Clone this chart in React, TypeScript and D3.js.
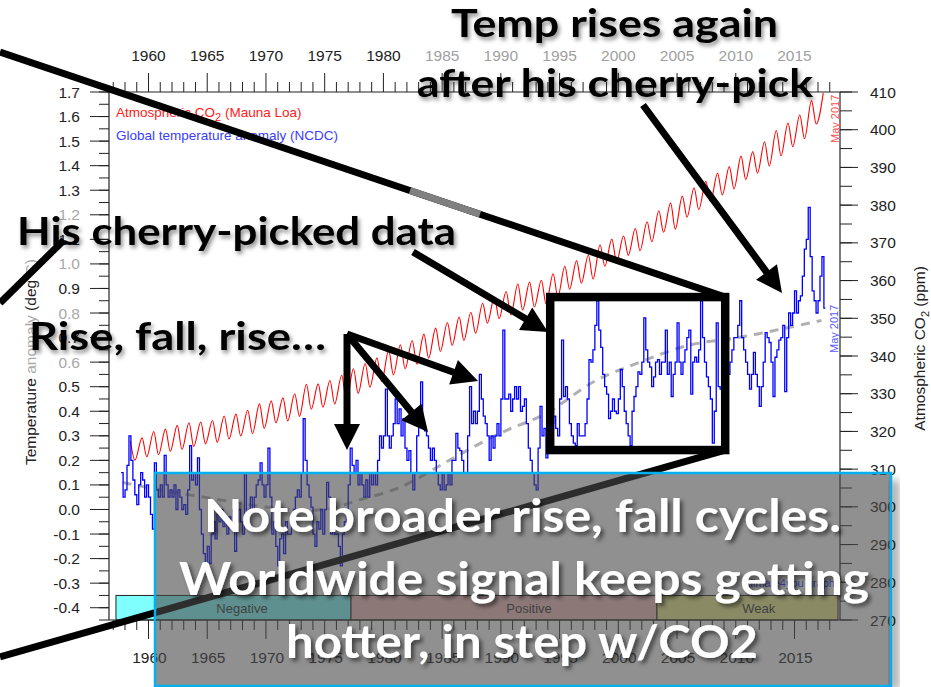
import React from "react";
import * as d3 from "d3";

// ---------------- DATA ----------------
const YEAR_TICKS_MAJOR = [1960, 1965, 1970, 1975, 1980, 1985, 1990, 1995, 2000, 2005, 2010, 2015];
const YEAR_TICKS_MINOR = d3.range(1957, 2019);
const TEMP_TICKS = [-0.4, -0.3, -0.2, -0.1, 0.0, 0.1, 0.2, 0.3, 0.4, 0.5, 0.6, 0.7, 0.8, 0.9, 1.0, 1.1, 1.2, 1.3, 1.4, 1.5, 1.6, 1.7];
const TEMP_TICKS_MINOR = d3.range(-0.45, 1.71, 0.05);
const CO2_TICKS = [270, 280, 290, 300, 310, 320, 330, 340, 350, 360, 370, 380, 390, 400, 410];
const CO2_TICKS_MINOR = d3.range(270, 411, 5);

// Mauna Loa CO2, seasonal maxima (May) and minima (autumn), ppm
const CO2_YEARS = d3.range(1958, 2018);
const CO2_MAY_PEAK = [
  317.5, 318.3, 320.0, 320.6, 321.6, 322.3, 322.5, 322.9, 324.1, 324.6,
  325.6, 327.3, 328.1, 328.9, 330.0, 332.5, 332.6, 333.5, 334.9, 336.6,
  338.0, 339.5, 341.5, 343.0, 344.1, 345.8, 347.4, 348.9, 350.3, 351.6,
  354.0, 355.6, 357.1, 359.1, 359.6, 360.1, 361.8, 363.8, 365.3, 366.8,
  369.5, 371.0, 371.8, 373.8, 375.6, 378.5, 380.6, 382.4, 384.6, 386.3,
  388.5, 390.2, 393.0, 394.2, 396.8, 399.8, 401.8, 403.9, 407.7, 409.7,
];
const CO2_AUTUMN_LOW = [
  312.4, 313.3, 313.8, 314.7, 315.2, 316.0, 316.7, 317.1, 318.0, 318.8,
  319.4, 320.8, 322.3, 322.8, 324.0, 325.9, 326.4, 327.3, 328.1, 330.1,
  331.7, 333.2, 335.0, 336.6, 337.8, 339.4, 341.2, 342.8, 344.1, 346.0,
  348.7, 349.9, 350.9, 352.2, 353.0, 353.8, 355.7, 357.7, 359.3, 360.4,
  363.8, 365.0, 366.7, 367.9, 370.3, 372.8, 373.6, 376.8, 378.8, 380.9,
  382.7, 384.3, 386.8, 388.5, 390.4, 393.1, 395.5, 397.6, 401.5,
];

// Global temperature anomaly (NCDC), deg C, read every two months
const TEMP_START = 1957.67;
const TEMP_STEP = 1 / 6;
const TEMP_VALUES = [
  0.15, 0.05,
  0.08, 0.18, 0.30, 0.20, 0.12, 0.06,
  0.02, 0.10, 0.15, 0.12, 0.05, 0.10,
  0.05, -0.02, -0.08, 0.19, 0.08, 0.05,
  0.10, 0.05, 0.22, 0.10, 0.05, 0.08,
  0.05, 0.10, 0.00, 0.08, 0.05, 0.00,
  0.02, -0.02, 0.08, 0.26, 0.12, 0.15,
  0.10, 0.21, 0.00, -0.10, -0.18, -0.22,
  -0.15, -0.22, -0.10, -0.05, -0.12, -0.02,
  -0.05, 0.00, -0.07, -0.05, -0.10, -0.03,
  -0.05, 0.00, -0.17, -0.05, 0.00, -0.05,
  -0.10, 0.15, -0.05, 0.00, 0.05, 0.00,
  0.05, 0.10, 0.12, 0.19, 0.10, 0.05,
  0.10, 0.25, 0.05, -0.10, -0.05, -0.15,
  -0.23, -0.12, -0.10, -0.18, -0.05, -0.10,
  -0.10, -0.05, 0.00, 0.05, 0.08, 0.05,
  0.15, 0.37, 0.20, 0.10, 0.05, 0.01,
  -0.10, -0.15, -0.05, -0.08, 0.00, -0.10,
  0.00, 0.11, 0.05, -0.10, -0.05, -0.10,
  -0.10, -0.15, -0.23, -0.10, -0.05, 0.00,
  0.10, 0.25, 0.18, 0.15, 0.20, 0.10,
  0.15, 0.10, 0.05, 0.12, 0.05, 0.15,
  0.10, 0.15, 0.10, 0.20, 0.30, 0.25,
  0.30, 0.49, 0.30, 0.25, 0.30, 0.35,
  0.45, 0.35, 0.41, 0.30, 0.37, 0.25,
  0.20, 0.24, 0.15, 0.08, 0.15, 0.30,
  0.40, 0.52, 0.35, 0.32, 0.30, 0.25,
  0.20, 0.25, 0.20, 0.15, 0.10, 0.08,
  0.15, 0.08, 0.10, 0.15, 0.10, 0.20,
  0.20, 0.31, 0.25, 0.24, 0.20, 0.15,
  0.15, 0.30, 0.50, 0.35, 0.40, 0.35,
  0.40, 0.55, 0.45, 0.38, 0.35, 0.30,
  0.20, 0.30, 0.25, 0.30, 0.35, 0.30,
  0.45, 0.73, 0.45, 0.45, 0.47, 0.40,
  0.45, 0.50, 0.45, 0.50, 0.40, 0.42,
  0.45, 0.35, 0.25, 0.20, 0.15, 0.10,
  0.08, 0.25, 0.42, 0.30, 0.33, 0.21,
  0.30, 0.25, 0.35, 0.38, 0.33, 0.30,
  0.45, 0.69, 0.46, 0.50, 0.45, 0.35,
  0.30, 0.27, 0.26, 0.35, 0.30, 0.30,
  0.30, 0.35, 0.45, 0.61, 0.60, 0.65,
  0.75, 0.85, 0.73, 0.66, 0.55, 0.50,
  0.47, 0.37, 0.40, 0.45, 0.40, 0.39,
  0.45, 0.57, 0.50, 0.40, 0.35, 0.30,
  0.26, 0.40, 0.46, 0.50, 0.56, 0.55,
  0.60, 0.78, 0.65, 0.60, 0.58, 0.50,
  0.54, 0.60, 0.61, 0.55, 0.60, 0.60,
  0.73, 0.55, 0.60, 0.46, 0.55, 0.60,
  0.76, 0.60, 0.55, 0.60, 0.65, 0.70,
  0.73, 0.47, 0.60, 0.62, 0.60, 0.65,
  0.85, 0.70, 0.60, 0.54, 0.50, 0.45,
  0.27, 0.40, 0.76, 0.50, 0.49, 0.55,
  0.50, 0.60, 0.55, 0.60, 0.65, 0.70,
  0.70, 0.75, 0.85, 0.70, 0.65, 0.60,
  0.55, 0.49, 0.55, 0.64, 0.55, 0.50,
  0.42, 0.50, 0.60, 0.72, 0.70, 0.68,
  0.60, 0.46, 0.62, 0.65, 0.69, 0.70,
  0.75, 0.48, 0.70, 0.80, 0.75, 0.80,
  0.89, 0.80, 0.85, 0.87, 0.95, 1.06,
  1.10, 1.23, 1.03, 0.89, 0.85, 0.80,
  0.85, 0.95, 1.03, 0.82,
];

// Smoothed trend (grey dashed)
const TREND_YEARS = [1957.8, 1961, 1966, 1970, 1975, 1978, 1981.4, 1985.6, 1989.9, 1993.8, 1997.9, 2001.3, 2006.1, 2010.2, 2014.4, 2017.3];
const TREND_VALUES = [0.11, 0.08, 0.04, 0.01, 0.0, 0.04, 0.09, 0.2, 0.31, 0.39, 0.52, 0.59, 0.67, 0.7, 0.74, 0.77];

// ENSO phases band
const ENSO_LABELS = ["Negative", "Positive", "Weak"];
const ENSO_START = [1957.23, 1977.24, 2003.29];
const ENSO_END = [1977.24, 2003.29, 2018.7];
const ENSO_LABEL_YEAR = [1967.96, 1992.4, 2011.95];
const ENSO_COLORS = ["#80ffff", "#f7c2c2", "#f0f090"];

// Cherry-picked window (years, deg C)
const PICK_YEARS = [1994.2, 2009.1];
const PICK_TEMPS = [0.242, 0.865];

// ---------------- CHART ----------------
const W = 931;
const H = 687;
const L = 109, R = 840, T = 92, B = 620;
const FONT = "'Liberation Sans', Arial, sans-serif";
const BIG = "Lato, 'Open Sans', sans-serif";

const x = d3.scaleLinear().domain([1960, 2015]).range([148.5, 794.5]);
const yT = d3.scaleLinear().domain([-0.45, 1.7]).range([B, T]);
const yC = d3.scaleLinear().domain([270, 410]).range([B, T]);

function arrowPoly(x1: number, y1: number, x2: number, y2: number, shaft = 7, headLen = 26, headHalf = 13) {
  const dx = x2 - x1, dy = y2 - y1;
  const len = Math.hypot(dx, dy);
  const ux = dx / len, uy = dy / len;
  const px = -uy, py = ux;
  const bx = x2 - ux * headLen, by = y2 - uy * headLen;
  const s = shaft / 2;
  const pts = [
    [x1 + px * s, y1 + py * s],
    [bx + px * s, by + py * s],
    [bx + px * headHalf, by + py * headHalf],
    [x2, y2],
    [bx - px * headHalf, by - py * headHalf],
    [bx - px * s, by - py * s],
    [x1 - px * s, y1 - py * s],
  ];
  return pts.map((p) => p.join(",")).join(" ");
}

export default function App() {
  const co2Pts: [number, number][] = [];
  CO2_YEARS.forEach((yr, i) => {
    co2Pts.push([yr + 0.45, CO2_MAY_PEAK[i]]);
    if (i < CO2_AUTUMN_LOW.length) co2Pts.push([yr + 0.85, CO2_AUTUMN_LOW[i]]);
  });
  const co2Line = d3
    .line<[number, number]>()
    .x((d) => x(d[0]))
    .y((d) => yC(d[1]))
    .curve(d3.curveMonotoneX);

  const tempPts: [number, number][] = TEMP_VALUES.map((v, i) => [TEMP_START + i * TEMP_STEP, v]);
  tempPts.push([TEMP_START + TEMP_VALUES.length * TEMP_STEP - 0.05, TEMP_VALUES[TEMP_VALUES.length - 1]]);
  const tempLine = d3
    .line<[number, number]>()
    .x((d) => x(d[0]))
    .y((d) => yT(d[1]))
    .curve(d3.curveStepAfter);

  const trendLine = d3
    .line<number>()
    .x((_, i) => x(TREND_YEARS[i]))
    .y((d) => yT(d))
    .curve(d3.curveCatmullRom);

  const boxX0 = x(PICK_YEARS[0]), boxX1 = x(PICK_YEARS[1]);
  const boxY0 = yT(PICK_TEMPS[1]), boxY1 = yT(PICK_TEMPS[0]);

  const grayLeft = new Set([1.2, 1.0, 0.8, 0.6]);

  return (
    <svg width={W} height={H} style={{ position: "absolute", left: 0, top: 0, background: "#fff" }} fontFamily={FONT}>
      <defs>
        <filter id="shBlack" x="-10%" y="-40%" width="125%" height="190%">
          <feDropShadow dx="2" dy="3" stdDeviation="2.2" floodColor="#000" floodOpacity="0.45" />
        </filter>
        <filter id="shWhite" x="-10%" y="-40%" width="125%" height="190%">
          <feDropShadow dx="3" dy="3" stdDeviation="2" floodColor="#000" floodOpacity="0.55" />
        </filter>
        <filter id="blur4">
          <feGaussianBlur stdDeviation="4" />
        </filter>
      </defs>
      <rect x={0} y={0} width={W} height={H} fill="#fff" />

      {/* ENSO band */}
      {ENSO_LABELS.map((lab, i) => (
        <g key={lab}>
          <rect
            x={x(ENSO_START[i])}
            y={yT(-0.35)}
            width={x(ENSO_END[i]) - x(ENSO_START[i])}
            height={yT(-0.45) - yT(-0.35)}
            fill={ENSO_COLORS[i]}
            stroke="#222"
            strokeWidth={1}
          />
          <text x={x(ENSO_LABEL_YEAR[i])} y={yT(-0.4) + 5} textAnchor="middle" fontSize={13} fill="#333">
            {lab}
          </text>
        </g>
      ))}
      <text x={745} y={587} fontSize={11} fill="#2a2aff">climate4you graph</text>

      {/* Axes frame */}
      <line x1={L} x2={R} y1={T} y2={T} stroke="#222" strokeWidth={1.2} />
      <line x1={L} x2={R} y1={B} y2={B} stroke="#222" strokeWidth={1.2} />
      <line x1={L} x2={L} y1={T} y2={B} stroke="#222" strokeWidth={1.2} />
      <line x1={R} x2={R} y1={T} y2={B} stroke="#222" strokeWidth={1.2} />

      {/* Year ticks top & bottom */}
      {YEAR_TICKS_MINOR.map((yr) => {
        const major = yr % 5 === 0;
        const len = major ? 19 : 10;
        return (
          <g key={"yt" + yr}>
            <line x1={x(yr)} x2={x(yr)} y1={T} y2={T - len} stroke="#222" strokeWidth={1} />
            <line x1={x(yr)} x2={x(yr)} y1={B} y2={B + len} stroke="#222" strokeWidth={1} />
          </g>
        );
      })}
      {YEAR_TICKS_MAJOR.map((yr) => (
        <g key={"yl" + yr}>
          <text x={x(yr)} y={61} textAnchor="middle" fontSize={15.5} fill={yr >= 1985 ? "#a0a0a0" : "#222"}>
            {yr}
          </text>
          <text x={x(yr) + 1} y={663} textAnchor="middle" fontSize={15.5} fill="#222">
            {yr}
          </text>
        </g>
      ))}

      {/* Left temperature axis */}
      {TEMP_TICKS_MINOR.map((v, i) => (
        <line key={"tm" + i} x1={L} x2={L - 10} y1={yT(v)} y2={yT(v)} stroke="#222" strokeWidth={1} />
      ))}
      {TEMP_TICKS.map((v) => (
        <g key={"tt" + v}>
          <line x1={L} x2={L - 19} y1={yT(v)} y2={yT(v)} stroke="#222" strokeWidth={1} />
          <text x={80} y={yT(v) + 5.5} textAnchor="end" fontSize={15.5} fill={grayLeft.has(v) ? "#a8a8a8" : "#222"}>
            {v.toFixed(1)}
          </text>
        </g>
      ))}
      <text transform={`translate(36,${yT(0.6)}) rotate(-90)`} textAnchor="middle" fontSize={15.5} fill="#222">
        <tspan>Temperature </tspan>
        <tspan fill="#aaa">anomaly</tspan>
        <tspan> (deg </tspan>
        <tspan fill="#aaa">C)</tspan>
      </text>

      {/* Right CO2 axis */}
      {CO2_TICKS_MINOR.map((v) => (
        <line key={"cm" + v} x1={R} x2={R + 12} y1={yC(v)} y2={yC(v)} stroke="#222" strokeWidth={1} />
      ))}
      {CO2_TICKS.map((v) => (
        <g key={"ct" + v}>
          <line x1={R} x2={R + 18} y1={yC(v)} y2={yC(v)} stroke="#222" strokeWidth={1} />
          <text x={870} y={yC(v) + 5.5} fontSize={15.5} fill="#222">
            {v}
          </text>
        </g>
      ))}
      <text transform={`translate(925,${yC(342)}) rotate(-90)`} textAnchor="middle" fontSize={15.5} fill="#222">
        Atmospheric CO<tspan fontSize={11} dy={4}>2</tspan>
        <tspan dy={-4}> (ppm)</tspan>
      </text>

      {/* Legend */}
      <text x={116} y={117} fontSize={13.5} fill="#ff2020">
        Atmospheric CO<tspan fontSize={11} dy={4}>2</tspan>
        <tspan dy={-4}> (Mauna Loa)</tspan>
      </text>
      <text x={116} y={140} fontSize={13.5} fill="#3c3cff">
        Global temperature anomaly (NCDC)
      </text>

      {/* Series */}
      <path d={trendLine(TREND_VALUES) || ""} fill="none" stroke="#b0b0b0" strokeWidth={3} strokeDasharray="9,7" />
      <path d={co2Line(co2Pts) || ""} fill="none" stroke="#ff0000" strokeWidth={1.1} />
      <path d={tempLine(tempPts) || ""} fill="none" stroke="#0000ff" strokeWidth={1.3} />

      <text transform="translate(839,143) rotate(-90)" fontSize={11} fill="#ff5050">May 2017</text>
      <text transform="translate(838,353) rotate(-90)" fontSize={11} fill="#5a5aff">May 2017</text>

      {/* Annotation lines */}
      <line x1={0} y1={52} x2={boxX1} y2={boxY0} stroke="#000" strokeWidth={7} />
      <line x1={410} y1={52 + (410 * (boxY0 - 52)) / boxX1} x2={480} y2={52 + (480 * (boxY0 - 52)) / boxX1} stroke="#808080" strokeWidth={7} />
      <line x1={0} y1={657} x2={boxX1} y2={boxY1} stroke="#000" strokeWidth={7} />
      <line x1={0} y1={303} x2={64} y2={240} stroke="#000" strokeWidth={7} />

      {/* Cherry-pick box */}
      <rect x={boxX0} y={boxY0} width={boxX1 - boxX0} height={boxY1 - boxY0} fill="none" stroke="#000" strokeWidth={8.5} />

      {/* Arrows */}
      <polygon points={arrowPoly(413, 252, 548, 332)} fill="#000" />
      <polygon points={arrowPoly(643, 105, 782, 293)} fill="#000" />
      <polygon points={arrowPoly(347, 334, 347, 450)} fill="#000" />
      <polygon points={arrowPoly(347, 334, 428, 432)} fill="#000" />
      <polygon points={arrowPoly(347, 334, 478, 381)} fill="#000" />

      {/* Grey overlay box */}
      <rect x={889} y={480} width={10} height={210} fill="#000" opacity={0.35} filter="url(#blur4)" />
      <rect x={155} y={473} width={736} height={213} fill="#4a4a4a" fillOpacity={0.61} stroke="#00b0f0" strokeWidth={2.5} />

      <g fill="#fff" fontFamily={BIG} fontWeight={700} fontSize={45} filter="url(#shWhite)">
        <text x={204} y={532} textLength={637} lengthAdjust="spacingAndGlyphs">Note broader rise, fall cycles.</text>
        <text x={179} y={595} textLength={690} lengthAdjust="spacingAndGlyphs">Worldwide signal keeps getting</text>
        <text x={286} y={658} textLength={472} lengthAdjust="spacingAndGlyphs">hotter, in step w/CO2</text>
      </g>

      {/* Black annotation texts */}
      <g fill="#000" fontFamily={BIG} fontWeight={700} fontSize={39} filter="url(#shBlack)">
        <text x={451} y={37} textLength={327} lengthAdjust="spacingAndGlyphs">Temp rises again</text>
        <text x={417} y={97} textLength={396} lengthAdjust="spacingAndGlyphs">after his cherry-pick</text>
        <text x={17} y={245} textLength={439} lengthAdjust="spacingAndGlyphs">His cherry-picked data</text>
        <text x={29} y={350} textLength={297} lengthAdjust="spacingAndGlyphs">Rise, fall, rise…</text>
      </g>
    </svg>
  );
}
